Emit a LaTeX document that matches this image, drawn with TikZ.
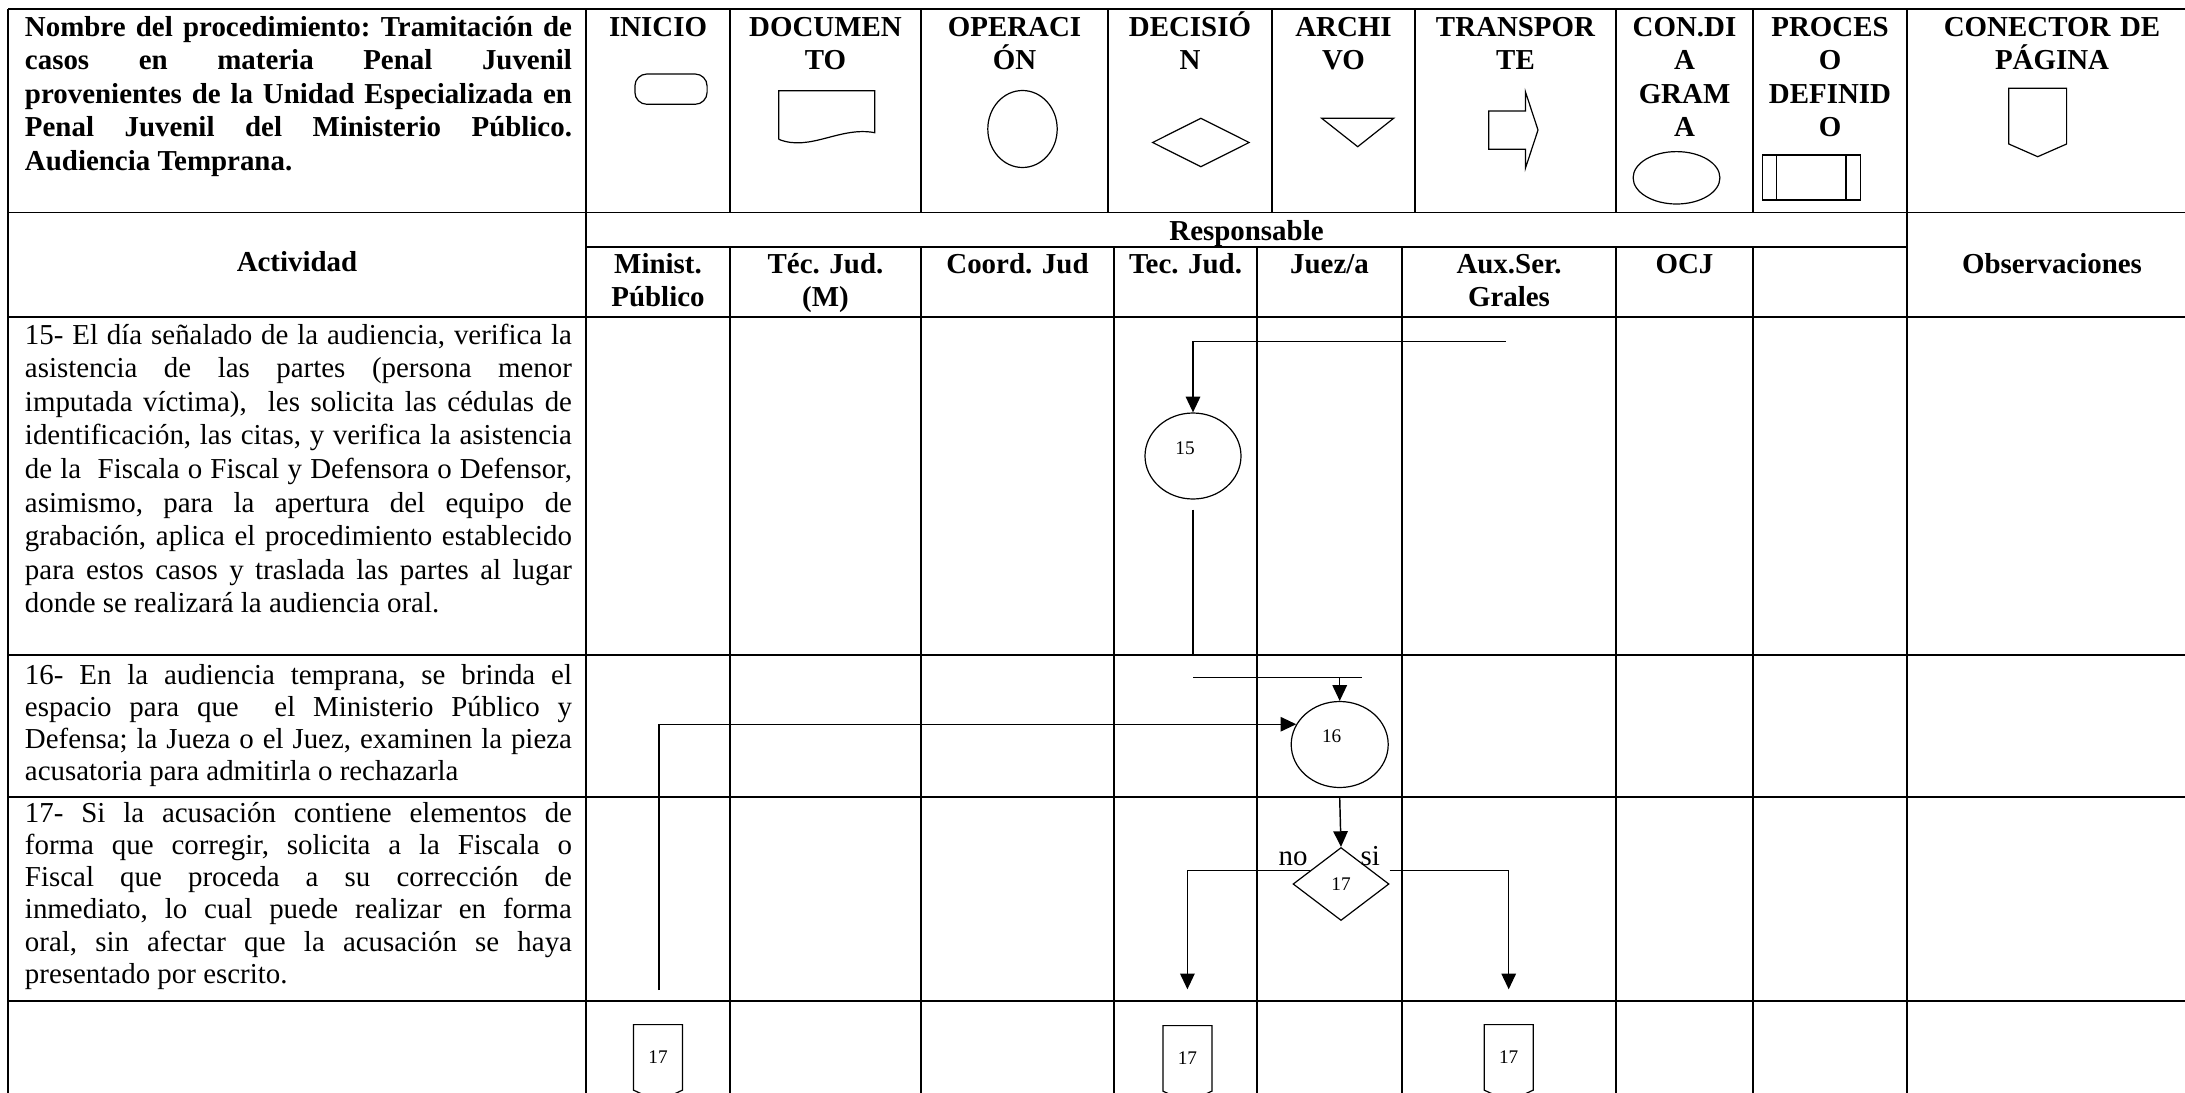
\documentclass[tikz,border=0pt]{standalone}
\usepackage{fontspec}
\setmainfont{Liberation Serif}
\frenchspacing
\usetikzlibrary{shapes.geometric,shapes.symbols,arrows.meta,calc}
\newlength\pxu
\setlength\pxu{0.415pt}
\tikzset{
  tabla/.style={line width=0.7pt},
  simb/.style={draw, line width=0.5pt},
  txt/.style={inner sep=0pt, font=\fontsize{12}{13.95}\selectfont},
  tit/.style={txt, font=\fontsize{12}{13.95}\selectfont\bfseries, align=center, anchor=base, text width=#1},
  act/.style={txt, align=justify, text width=547\pxu, anchor=base west},
  num/.style={inner sep=0pt, font=\fontsize{8}{9.6}\selectfont},
  paso/.style={simb, ellipse, inner sep=0pt, minimum width=96\pxu, minimum height=86\pxu},
  decis/.style={simb, diamond, num, minimum width=96\pxu, minimum height=73\pxu},
  conpag/.style={simb, signal, signal to=south, signal from=nowhere, signal pointer angle=130, num, minimum width=49\pxu, minimum height=70\pxu, anchor=north},
  lin/.style={line width=0.6pt},
  arr/.style={lin, -{Triangle[length=6.5pt, width=6pt]}},
}
\begin{document}
\begin{tikzpicture}[x=0.415pt, y=-0.415pt]
\useasboundingbox (0,0) rectangle (2185,1092);
% tabla
\draw[tabla] (8,9) -- (2190,9);
\foreach \y in {212.5,317,655,797,1001} \draw[tabla] (8,\y) -- (2190,\y);
\draw[tabla] (586,247) -- (1907,247);
\foreach \x in {8,586,1907} \draw[tabla] (\x,9) -- (\x,1100);
\foreach \x in {730,921,1108,1272,1415,1616,1753} \draw[tabla] (\x,9) -- (\x,212.5);
\foreach \x in {730,921,1114,1257,1402,1616,1753} \draw[tabla] (\x,247) -- (\x,1100);

% encabezado
\node[act, font=\fontsize{12}{13.95}\selectfont\bfseries] (nombre) at (24.5,36) {Nombre del procedimiento: Tramitación de\linebreak casos en materia Penal Juvenil\linebreak provenientes de la Unidad Especializada en\linebreak Penal Juvenil del Ministerio Público.\linebreak Audiencia Temprana.};
\node[tit=134\pxu] (hIni) at (658,36) {INICIO};
\node[tit=181\pxu] (hDoc) at (825.5,36) {DOCUMEN\\TO};
\node[tit=177\pxu] (hOpe) at (1014.5,36) {OPERACI\\ÓN};
\node[tit=154\pxu] (hDec) at (1190,36) {DECISIÓ\\N};
\node[tit=133\pxu] (hArc) at (1343.5,36) {ARCHI\\VO};
\node[tit=191\pxu] (hTra) at (1515.5,36) {TRANSPOR\\TE};
\node[tit=127\pxu] (hCon) at (1684.5,36) {CON.DI\\A\\GRAM\\A};
\node[tit=144\pxu] (hPro) at (1830,36) {PROCES\\O\\DEFINID\\O};
\node[tit=270\pxu] (hPag) at (2052,36) {CONECTOR DE\\PÁGINA};

% simbolos
\draw[simb, rounded corners=12\pxu] (634.9,74) rectangle (707.1,104.3);
\draw[simb] (778.7,139.3) -- (778.7,90.7) -- (874.8,90.7) -- (874.8,132.7) .. controls (840,126) and (810,152) .. (778.7,139.3);
\draw[simb] (1022.5,129) ellipse [x radius=34.7\pxu, y radius=38.5\pxu];
\draw[simb] (1152.6,142.5) -- (1200.9,118.3) -- (1249.1,142.5) -- (1200.9,166.7) -- cycle;
\draw[simb] (1321.7,118.3) -- (1393.6,118.3) -- (1357.7,146.7) -- cycle;
\draw[simb] (1488.7,111) -- (1525.4,111) -- (1525.4,91.7) -- (1538,130) -- (1525.4,168.3) -- (1525.4,149.3) -- (1488.7,149.3) -- cycle;
\draw[simb] (1676.5,177.8) ellipse [x radius=43.4\pxu, y radius=26.2\pxu];
\draw[simb] (1762.2,155) rectangle (1860.1,200) (1776.3,155) -- (1776.3,200) (1846,155) -- (1846,200);
\draw[simb] (2008.8,88.3) -- (2066.6,88.3) -- (2066.6,144) -- (2037.7,156.7) -- (2008.8,144) -- cycle;

% responsables
\node[tit=300\pxu] (hResp) at (1246.5,240) {Responsable};
\node[tit=300\pxu] (hAct) at (297,271.5) {Actividad};
\node[tit=134\pxu] (rMP) at (658,273.3) {Minist.\\Público};
\node[tit=181\pxu] (rTJM) at (825.5,273.3) {Téc. Jud.\\(M)};
\node[tit=183\pxu] (rCJ) at (1017.5,273.3) {Coord. Jud};
\node[tit=133\pxu] (rTJ) at (1185.5,273.3) {Tec. Jud.};
\node[tit=135\pxu] (rJz) at (1329.5,273.3) {Juez/a};
\node[tit=204\pxu] (rAux) at (1509,273.3) {Aux.Ser.\\Grales};
\node[tit=127\pxu] (rOCJ) at (1684.5,273.3) {OCJ};
\node[tit=270\pxu] (rObs) at (2052,273.3) {Observaciones};

% actividades
\node[act] (a15) at (24.5,344) {15- El día señalado de la audiencia, verifica la\linebreak asistencia de las partes (persona menor\linebreak imputada víctima),\ \ les solicita las cédulas de\linebreak identificación, las citas, y verifica la asistencia\linebreak de la\ \ Fiscala o Fiscal y Defensora o Defensor,\linebreak asimismo, para la apertura del equipo de\linebreak grabación, aplica el procedimiento establecido\linebreak para estos casos y traslada las partes al lugar\linebreak donde se realizará la audiencia oral.};
\node[act, font=\fontsize{12}{13.4}\selectfont] (a16) at (24.5,684) {16- En la audiencia temprana, se brinda el\linebreak espacio para que\ \ el Ministerio Público y\linebreak Defensa; la Jueza o el Juez, examinen la pieza\linebreak acusatoria para admitirla o rechazarla};
\node[act, font=\fontsize{12}{13.4}\selectfont] (a17) at (24.5,822) {17- Si la acusación contiene elementos de\linebreak forma que corregir, solicita a la Fiscala o\linebreak Fiscal que proceda a su corrección de\linebreak inmediato, lo cual puede realizar en forma\linebreak oral, sin afectar que la acusación se haya\linebreak presentado por escrito.};

% flujo
\node[paso, label={[num, xshift=-8\pxu, yshift=8\pxu]center:15}] (c15) at (1193,456) {};
\node[paso, minimum width=97\pxu, label={[num, xshift=-8\pxu, yshift=8\pxu]center:16}] (c16) at (1339.7,744.5) {};
\node[decis] (d17) at (1341,884) {17};
\node[txt, anchor=base east] (lno) at (1308,865) {no};
\node[txt, anchor=base west] (lsi) at (1360,865) {si};
\node[conpag] (k17a) at (658,1024) {17};
\node[conpag] (k17b) at (1187.4,1025) {17};
\node[conpag] (k17c) at (1508.7,1024) {17};

\coordinate (ent15) at (1505.6,341.3);
\coordinate (sal15) at (1193,655);
\coordinate (ba16) at (1193,677.7);
\coordinate (bb16) at (1362,677.7);
\coordinate (mp16) at (659,990);
\coordinate (no17) at (1187.4,989.3);
\coordinate (si17) at (1508.7,989.3);
\draw[arr] (ent15) -| (c15.north);
\draw[lin] ($(c15.south)+(0,10)$) -- (sal15);
\draw[lin] (ba16) -- (bb16);
\draw[arr] (c16.north |- ba16) -- (c16.north);
\draw[arr] (mp16) |- (c16.155);
\draw[arr] ($(c16.south)+(0,10)$) -- (d17.north);
\draw[arr] (d17.156) -| (no17);
\draw[arr] ($(d17.east)+(0,-13.3)$) -| (si17);
\end{tikzpicture}
\end{document}
